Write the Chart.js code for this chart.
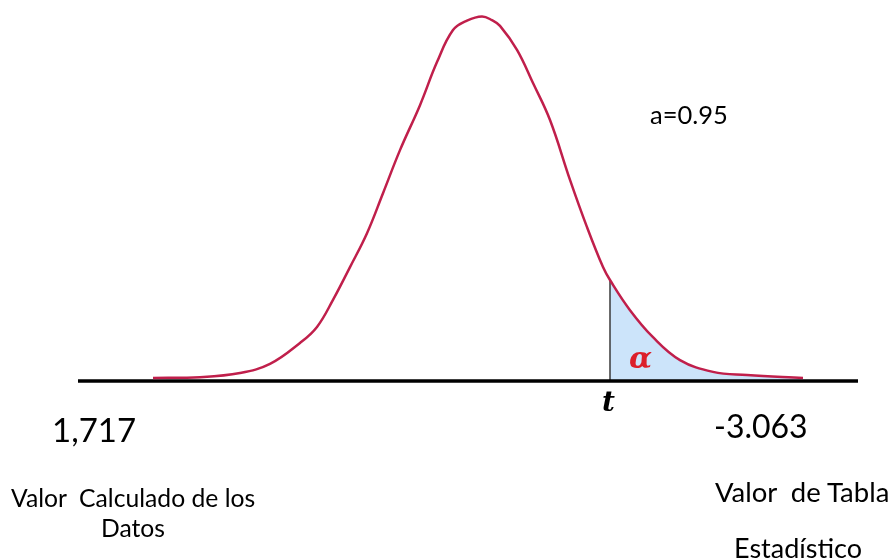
<!DOCTYPE html>
<html>
<head>
<meta charset="utf-8">
<script src="https://cdn.jsdelivr.net/npm/chart.js@4.4.0/dist/chart.umd.min.js"></script>
<style>
  body { margin: 0; background: #fff; }
  #wrap { position: relative; width: 895px; height: 560px; }
  .lbl { position: absolute; font-family: Lato, sans-serif; color: #000; white-space: pre; line-height: 1; }
  #tLbl { font-family: 'DejaVu Serif', serif; font-weight: bold; font-style: italic; font-size: 28px; }
  #alphaLbl { font-family: 'DejaVu Serif', serif; font-weight: bold; font-style: italic; color: #dc1f2a; font-size: 30px; }
</style>
</head>
<body>
<div id="wrap">
  <canvas id="curva" width="895" height="560"></canvas>
  <div class="lbl" style="left:650px;top:102px;font-size:25.5px">a=0.95</div>
  <div class="lbl" style="left:52px;top:413px;font-size:33px">1,717</div>
  <div class="lbl" style="left:714px;top:410px;font-size:32px">-3.063</div>
  <div class="lbl" style="left:11px;top:486px;font-size:24.7px">Valor  Calculado de los</div>
  <div class="lbl" style="left:101px;top:516px;font-size:24.7px">Datos</div>
  <div class="lbl" style="left:715px;top:478px;font-size:27.5px">Valor  de Tabla</div>
  <div class="lbl" style="left:734px;top:534px;font-size:27px">Estadístico</div>
  <div class="lbl" id="tLbl">t</div>
  <div class="lbl" id="alphaLbl">α</div>
</div>
<script>
// curve (x centred on the peak, y relative to the plot height)
const curveX = [-3.29, -2.82, -2.42, -2.12, -1.82, -1.65, -1.49, -1.32, -1.15, -0.99, -0.82, -0.62, -0.45, -0.29, -0.15, 0,
  0.10, 0.18, 0.35, 0.51, 0.68, 0.88, 1.05, 1.21, 1.28, 1.48, 1.71, 1.98, 2.31, 2.65, 3.21];
const curveY = [0.008, 0.010, 0.021, 0.045, 0.100, 0.142, 0.213, 0.299, 0.388, 0.493, 0.606, 0.724, 0.837, 0.921, 0.946, 0.957,
  0.947, 0.932, 0.869, 0.782, 0.685, 0.528, 0.404, 0.299, 0.265, 0.186, 0.115, 0.055, 0.024, 0.016, 0.008];
const tCut = 1.28;
const axisMin = -4.04;
const axisMax = 3.76;

let curvePts = curveX.map((x, i) => ({ x: x, y: curveY[i] }));
let tailPts = curvePts.filter((p) => p.x >= tCut);
let cutY = curveY[curveX.indexOf(tCut)];

const ctx = document.getElementById('curva').getContext('2d');
let chart = new Chart(ctx, {
  type: 'line',
  data: {
    datasets: [
      {
        label: 'curva',
        data: curvePts,
        borderColor: '#c01f4b',
        borderWidth: 2.5,
        pointRadius: 0,
        tension: 0.4,
        fill: false,
        clip: false,
        order: 0,
      },
      {
        label: 'eje',
        data: [{ x: axisMin, y: 0 }, { x: axisMax, y: 0 }],
        borderColor: '#000',
        borderWidth: 3.5,
        pointRadius: 0,
        fill: false,
        clip: false,
        order: 1,
      },
      {
        label: 't',
        data: [{ x: tCut, y: 0 }, { x: tCut, y: cutY }],
        borderColor: '#3a3a3a',
        borderWidth: 1.5,
        pointRadius: 0,
        fill: false,
        clip: false,
        order: 2,
      },
      {
        label: 'alfa',
        data: tailPts,
        borderColor: 'rgba(0,0,0,0)',
        borderWidth: 0,
        backgroundColor: '#cce4fa',
        pointRadius: 0,
        tension: 0.4,
        fill: 'origin',
        clip: false,
        order: 3,
      },
    ],
  },
  options: {
    responsive: false,
    animation: false,
    layout: { padding: { left: 78, right: 37, top: 0, bottom: 179 } },
    plugins: { legend: { display: false }, tooltip: { enabled: false } },
    scales: {
      x: { type: 'linear', min: axisMin, max: axisMax, display: false },
      y: { min: 0, max: 1, display: false },
    },
  },
});

// place t and alpha next to the cut
let px = chart.scales.x.getPixelForValue(tCut);
let py = chart.scales.y.getPixelForValue(0);
let tLbl = document.getElementById('tLbl');
tLbl.style.left = (px - 8) + 'px';
tLbl.style.top = (py + 7) + 'px';
let aLbl = document.getElementById('alphaLbl');
aLbl.style.left = (px + 19) + 'px';
aLbl.style.top = (py - 38) + 'px';
</script>
</body>
</html>
